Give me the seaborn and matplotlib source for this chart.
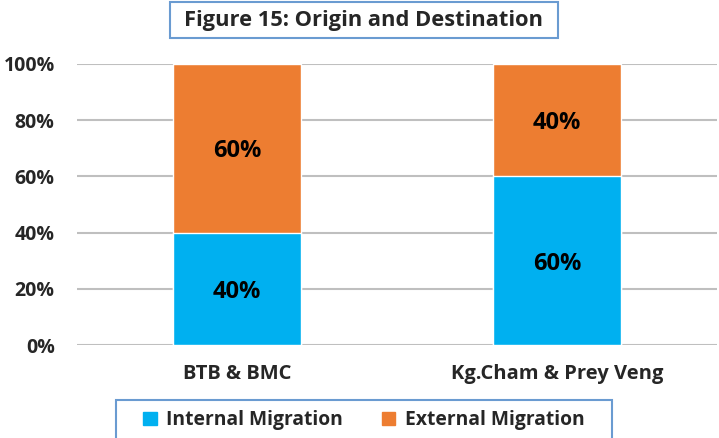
import matplotlib
matplotlib.use("Agg")
import matplotlib.pyplot as plt
import matplotlib.patches as mpatches
import numpy as np
import pandas as pd
import seaborn as sns

# Datos
regiones = ['BTB & BMC', 'Kg.Cham & Prey Veng']
interna = [40, 60]
externa = [60, 40]
ticks_y = [0, 20, 40, 60, 80, 100]

azul = '#00B0F0'
naranja = '#ED7D31'
borde = '#6A9BD1'

sns.set_style('white')
plt.rcParams['font.family'] = ['Open Sans', 'DejaVu Sans']
plt.rcParams['font.weight'] = 'bold'

df = pd.DataFrame({'Region': regiones, 'Interna': interna, 'Externa': externa})
df['Total'] = df['Interna'] + df['Externa']

fig = plt.figure(figsize=(7.19, 4.38), dpi=100)
ax = fig.add_axes([0.107, 0.2123, 0.890, 0.6416])

# Barras apiladas: primero el total (naranja), luego la parte interna (azul)
sns.barplot(data=df, x='Region', y='Total', color=naranja, width=0.4,
            saturation=1, ax=ax, zorder=3)
sns.barplot(data=df, x='Region', y='Interna', color=azul, width=0.4,
            saturation=1, ax=ax, zorder=3)

# Etiquetas de porcentaje
for i, fila in df.iterrows():
    ax.text(i, fila['Interna'] / 2 - 1, f"{fila['Interna']}%", ha='center', va='center',
            fontsize=17, fontweight='bold', color='black', zorder=4)
    ax.text(i, fila['Interna'] + fila['Externa'] / 2 - 1, f"{fila['Externa']}%",
            ha='center', va='center', fontsize=17, fontweight='bold', color='black', zorder=4)

ax.set_ylim(0, 100)
ax.set_xlim(-0.5, 1.5)
ax.set_yticks(ticks_y)
ax.set_yticklabels([f'{t}%' for t in ticks_y], fontsize=14, fontweight='bold')
ax.tick_params(axis='x', labelsize=14.5, pad=14, length=0)
ax.tick_params(axis='y', length=0, pad=16)
for lbl in ax.get_xticklabels():
    lbl.set_fontweight('bold')
ax.set_xlabel('')
ax.set_ylabel('')
ax.yaxis.grid(True, color='#BFBFBF', linewidth=1.5, zorder=0)
ax.set_axisbelow(True)
for s in ax.spines.values():
    s.set_visible(False)

# Titulo en recuadro
fig.patches.append(mpatches.Rectangle((0.236, 0.913), 0.540, 0.082, transform=fig.transFigure,
                                      facecolor='white', edgecolor=borde, linewidth=1.5))
fig.text(0.506, 0.954, 'Figure 15: Origin and Destination', ha='center', va='center',
         fontsize=15.75, fontweight='bold')

# Leyenda en recuadro
fig.patches.append(mpatches.Rectangle((0.161, -0.02), 0.690, 0.107, transform=fig.transFigure,
                                      facecolor='white', edgecolor=borde, linewidth=1.5))
handles = [mpatches.Patch(color=azul, label='Internal Migration'),
           mpatches.Patch(color=naranja, label='External Migration')]
fig.legend(handles=handles, loc='center', bbox_to_anchor=(0.506, 0.040), ncol=2,
           frameon=False, fontsize=13.9, handlelength=0.7, handleheight=0.7,
           handletextpad=0.5, columnspacing=2.0)

fig.savefig('out.png', dpi=100)
